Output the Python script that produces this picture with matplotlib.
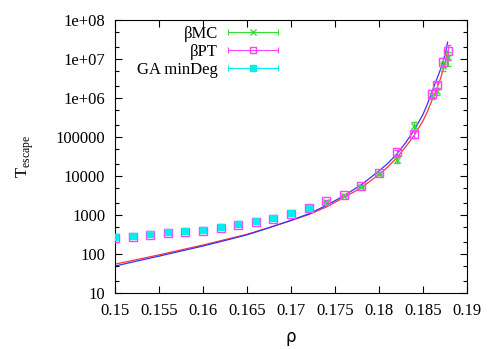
import matplotlib
matplotlib.use('Agg')
import matplotlib.pyplot as plt
from matplotlib.lines import Line2D
from matplotlib.legend_handler import HandlerLine2D, HandlerTuple
from matplotlib.ticker import FixedLocator, FuncFormatter, LogLocator, NullFormatter

# GA minDeg
rho_ga = [0.150, 0.152, 0.154, 0.156, 0.158, 0.160, 0.162, 0.164, 0.166, 0.168, 0.170, 0.172]
t_ga = [273, 290, 325, 365, 390, 412, 490, 588, 702, 835, 1120, 1510]
rel_err_ga = [0.04] * 12

# beta PT
rho_pt = [0.150, 0.152, 0.154, 0.156, 0.158, 0.160, 0.162, 0.164, 0.166, 0.168, 0.170,
          0.172, 0.174, 0.176, 0.178, 0.180, 0.182, 0.184, 0.186, 0.1866, 0.1873, 0.1878]
t_pt = [262, 278, 312, 350, 375, 398, 470, 565, 680, 810, 1080,
        1470, 2300, 3300, 5600, 12000, 41000, 120000, 1.3e6, 2.2e6, 8.5e6, 1.6e7]
rel_err_pt = [0.04] * 12 + [0.05, 0.05, 0.06, 0.08, 0.15, 0.2, 0.2, 0.2, 0.25, 0.4]

# beta MC
rho_mc = [0.174, 0.176, 0.178, 0.180, 0.182, 0.184, 0.186, 0.1866, 0.1873, 0.1878]
t_mc = [2200, 3150, 5200, 11500, 26000, 190000, 1.15e6, 1.5e6, 6.6e6, 1.1e7]
rel_err_mc = [0.05, 0.05, 0.06, 0.08, 0.15, 0.25, 0.2, 0.2, 0.25, 0.4]

# fitted curves
rho_fit = [0.150, 0.1525, 0.155, 0.1575, 0.160, 0.1625, 0.165, 0.1675, 0.170, 0.172, 0.174,
           0.176, 0.178, 0.180, 0.181, 0.182, 0.183, 0.184, 0.185, 0.1855, 0.186, 0.1865,
           0.187, 0.1873, 0.1876, 0.1878]
t_fit_blue = [49, 66, 88, 119, 160, 222, 310, 470, 730, 1070, 1750,
              3100, 6000, 13500, 21000, 36000, 70000, 150000, 380000, 700000, 1.4e6, 2.8e6,
              5.5e6, 9e6, 1.6e7, 2.7e7]
t_fit_red = [55, 72, 95, 127, 170, 233, 320, 475, 720, 1020, 1600,
             2800, 5000, 11000, 17000, 29000, 55000, 110000, 260000, 450000, 850000, 1.6e6,
             3.2e6, 5.5e6, 1e7, 1.6e7]

x_ticks = [0.15, 0.155, 0.16, 0.165, 0.17, 0.175, 0.18, 0.185, 0.19]
y_ticks = [10, 100, 1000, 10000, 100000, 1e6, 1e7, 1e8]
y_labels = ['10', '100', '1000', '10000', '100000', '1e+06', '1e+07', '1e+08']

plt.rcParams['font.family'] = ['Liberation Serif', 'DejaVu Serif']
plt.rcParams['font.size'] = 12
plt.rcParams['mathtext.fontset'] = 'custom'
plt.rcParams['mathtext.rm'] = 'Liberation Serif'

c_mc = '#33dd33'
c_pt = '#ff44ff'
c_ga = '#00eeee'
c_red = '#ff3333'
c_blue = '#3333ff'

fig = plt.figure(figsize=(4.98, 3.49), dpi=100)
ax = fig.add_axes([115 / 498, 1 - 293 / 349, 352 / 498, 273 / 349])

ax.plot(rho_fit, t_fit_red, color=c_red, lw=0.9, zorder=2)
ax.plot(rho_fit, t_fit_blue, color=c_blue, lw=0.9, zorder=2)

err_mc = [t * e for t, e in zip(t_mc, rel_err_mc)]
err_pt = [t * e for t, e in zip(t_pt, rel_err_pt)]
err_ga = [t * e for t, e in zip(t_ga, rel_err_ga)]

ax.errorbar(rho_mc, t_mc, yerr=err_mc, fmt='x', color=c_mc, ms=5, mew=1,
            elinewidth=0.8, capsize=2, zorder=3)
ax.errorbar(rho_pt, t_pt, yerr=err_pt, fmt='s', color=c_pt, mfc='none', ms=6, mew=1,
            elinewidth=0.8, capsize=2, zorder=3)
ax.errorbar(rho_ga, t_ga, yerr=err_ga, fmt='s', color=c_ga, ms=5, mew=1,
            elinewidth=0.8, capsize=2, zorder=4)

ax.set_yscale('log')
ax.set_xlim(0.15, 0.19)
ax.set_ylim(10, 1e8)

ax.xaxis.set_major_locator(FixedLocator(x_ticks))
ax.xaxis.set_major_formatter(FuncFormatter(lambda v, p: '%g' % v))
ax.yaxis.set_major_locator(FixedLocator(y_ticks))
ax.set_yticklabels(y_labels)
ax.yaxis.set_minor_locator(LogLocator(base=10, subs=(2, 5), numticks=20))
ax.yaxis.set_minor_formatter(NullFormatter())

ax.tick_params(which='both', direction='in', top=True, right=True, width=0.8)
ax.tick_params(which='major', length=5, pad=7)
ax.tick_params(which='minor', length=3)
for s in ax.spines.values():
    s.set_linewidth(0.8)

ax.set_xlabel('ρ', family='DejaVu Sans', fontsize=12, labelpad=7)
ax.set_ylabel(r'$\mathrm{T}_{\mathrm{escape}}$', fontsize=12, labelpad=14)


def legend_handle(color, marker, mfc, ms):
    bar = Line2D([], [], color=color, lw=0.8, marker='|', ms=5, mew=0.8)
    pt = Line2D([], [], ls='none', color=color, marker=marker, mfc=mfc, ms=ms, mew=1)
    return (bar, pt), bar


h_mc, b_mc = legend_handle(c_mc, 'x', c_mc, 4)
h_pt, b_pt = legend_handle(c_pt, 's', 'none', 5)
h_ga, b_ga = legend_handle(c_ga, 's', c_ga, 4)

hmap = {b: HandlerLine2D(numpoints=2, marker_pad=0) for b in (b_mc, b_pt, b_ga)}
hmap[tuple] = HandlerTuple(ndivide=1)

fig.legend([h_mc, h_pt, h_ga], ['βMC', 'βPT', 'GA minDeg'],
           handler_map=hmap, numpoints=1, markerfirst=False, frameon=False,
           loc='upper right', bbox_to_anchor=(278 / 498, 1 - 26 / 349),
           borderpad=0, borderaxespad=0, handlelength=3.0, handletextpad=0.6,
           labelspacing=0.12, fontsize=12)

fig.savefig('out.png', dpi=100)
